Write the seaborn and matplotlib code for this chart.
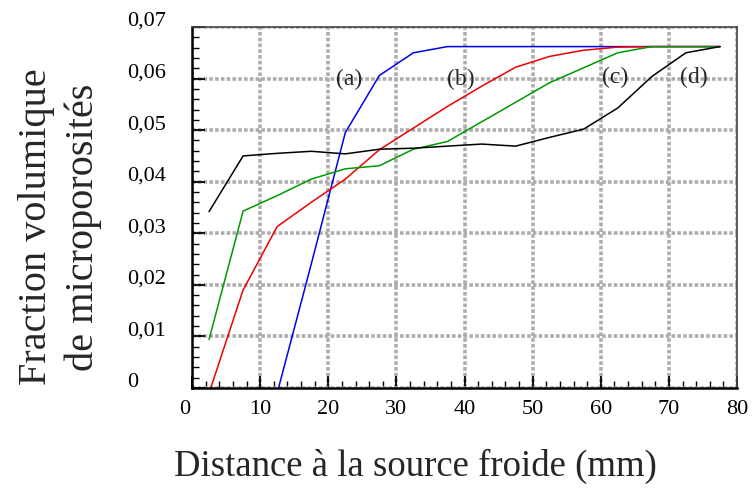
import numpy as np
import pandas as pd
import matplotlib
matplotlib.use("Agg")
import matplotlib.pyplot as plt
import matplotlib.transforms as mtransforms
import seaborn as sns

# distance to the cold source (mm)
distance = [2.5, 7.5, 12.5, 17.5, 22.5, 27.5, 32.5, 37.5,
            42.5, 47.5, 52.5, 57.5, 62.5, 67.5, 72.5, 77.5]

# volume fraction of microporosity for each curve
curve_a = [np.nan, np.nan, -0.001, 0.0240, 0.0495, 0.0606, 0.0650, 0.0662,
           0.0662, 0.0662, 0.0662, 0.0662, 0.0662, 0.0662, 0.0662, 0.0662]
curve_b = [-0.001, 0.0190, 0.0313, 0.0360, 0.0405, 0.0462, 0.0504, 0.0546,
           0.0585, 0.0622, 0.0643, 0.0655, 0.0661, 0.0662, 0.0662, 0.0662]
curve_c = [0.0094, 0.0343, 0.0373, 0.0405, 0.0425, 0.0431, 0.0463, 0.0478,
           0.0516, 0.0554, 0.0592, 0.0621, 0.0650, 0.0662, 0.0662, 0.0662]
curve_d = [0.0342, 0.0450, 0.0455, 0.0459, 0.0454, 0.0463, 0.0465, 0.0469,
           0.0473, 0.0469, 0.0486, 0.0502, 0.0543, 0.0604, 0.0650, 0.0662]

curve_names = ["(a)", "(b)", "(c)", "(d)"]
curve_colors = ["#0000ee", "#ee0000", "#009900", "#000000"]

x_ticks = [0, 10, 20, 30, 40, 50, 60, 70, 80]
y_ticks = [0, 0.01, 0.02, 0.03, 0.04, 0.05, 0.06, 0.07]
y_tick_labels = ["0", "0,01", "0,02", "0,03", "0,04", "0,05", "0,06", "0,07"]

df = pd.DataFrame({"distance": distance, "(a)": curve_a, "(b)": curve_b,
                   "(c)": curve_c, "(d)": curve_d})
long_df = df.melt(id_vars="distance", var_name="courbe", value_name="fraction")

sns.set_theme(style="white")
plt.rcParams["font.family"] = ["Liberation Serif", "DejaVu Serif"]

fig = plt.figure(figsize=(7.56, 4.88), dpi=100)
ax = fig.add_axes([192 / 756, 100 / 488, 545 / 756, 361 / 488])

sns.lineplot(data=long_df, x="distance", y="fraction", hue="courbe",
             palette=dict(zip(curve_names, curve_colors)), linewidth=1.1,
             legend=False, ax=ax, sort=True)

ax.set_xlim(0, 80)
ax.set_ylim(0, 0.07)
ax.set_xticks(x_ticks)
ax.set_xticklabels([str(t) for t in x_ticks])
ax.set_yticks(y_ticks)
ax.set_yticklabels(y_tick_labels)
ax.set_xticks(np.arange(0, 80.1, 2), minor=True)
ax.set_yticks(np.arange(0, 0.0701, 0.002), minor=True)
ax.set_xlabel("")
ax.set_ylabel("")

ax.grid(True, which="major", color="#adadad", linewidth=2.6,
        linestyle=(0, (1, 0.6)))
ax.set_axisbelow(True)

ax.tick_params(which="both", direction="in", colors="black",
               left=True, bottom=True, labelsize=16)
ax.tick_params(which="major", length=9, width=1.3)
ax.tick_params(which="minor", length=5, width=1.0)
ax.tick_params(axis="x", pad=9)
ax.tick_params(axis="y", pad=47)

for side in ["left", "bottom"]:
    ax.spines[side].set_color("black")
    ax.spines[side].set_linewidth(1.8)
for side in ["top", "right"]:
    ax.spines[side].set_color("#444444")
    ax.spines[side].set_linewidth(1.2)

for lab in ax.get_yticklabels():
    lab.set_horizontalalignment("left")
    lab.set_transform(lab.get_transform() +
                      mtransforms.ScaledTranslation(0, 8 / 100, fig.dpi_scale_trans))
first_x = ax.get_xticklabels()[0]
first_x.set_transform(first_x.get_transform() +
                      mtransforms.ScaledTranslation(-7 / 100, 0, fig.dpi_scale_trans))

# curve tags
ax.text(23.0, 0.0598, "(a)", fontsize=17, ha="center", va="center")
ax.text(39.5, 0.0598, "(b)", fontsize=17, ha="center", va="center")
ax.text(62.1, 0.0602, "(c)", fontsize=17, ha="center", va="center")
ax.text(73.6, 0.0602, "(d)", fontsize=17, ha="center", va="center")

fig.text(415 / 756, 22 / 488, "Distance à la source froide (mm)",
         fontsize=26.5, ha="center", va="center")
fig.text(60 / 756, 261 / 488, "Fraction volumique\nde microporosités",
         fontsize=29, ha="center", va="center", rotation=90,
         multialignment="center", linespacing=1.3)

fig.savefig("out.png", dpi=100)
